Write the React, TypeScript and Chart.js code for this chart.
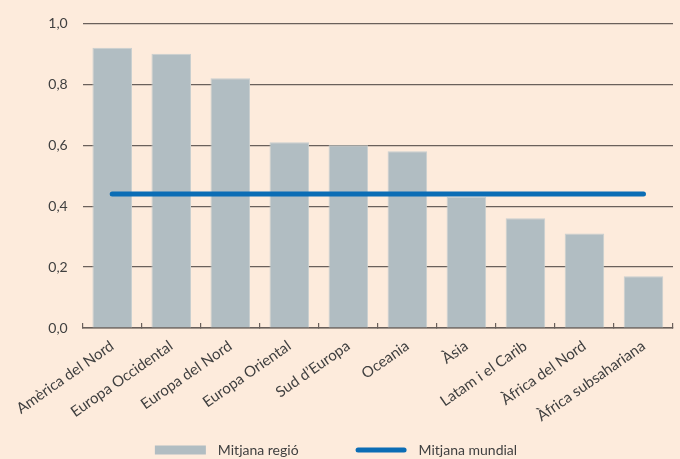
import React, { useEffect, useRef } from "react";
import { Chart, registerables } from "chart.js";

Chart.register(...registerables);

const categories = [
  "Amèrica del Nord",
  "Europa Occidental",
  "Europa del Nord",
  "Europa Oriental",
  "Sud d’Europa",
  "Oceania",
  "Àsia",
  "Latam i el Carib",
  "Àfrica del Nord",
  "Àfrica subsahariana",
];
const regionValues = [0.92, 0.9, 0.82, 0.61, 0.6, 0.58, 0.43, 0.36, 0.31, 0.17];
const worldValues = [0.44, 0.44, 0.44, 0.44, 0.44, 0.44, 0.44, 0.44, 0.44, 0.44];
const seriesLabels = ["Mitjana regió", "Mitjana mundial"];

const BG = "#FDEBDC";
const BAR = "#B1BDC2";
const BAR_EDGE = "#C9CFCF";
const LINE = "#0B6DB5";
const GRID = "#6A605B";
const TEXT = "#404040";
const FONT = "Lato";

const legendPlugin = {
  id: "customLegend",
  afterDraw(chart: any) {
    const ctx = chart.ctx as CanvasRenderingContext2D;
    ctx.save();
    ctx.font = `14px ${FONT}`;
    ctx.textBaseline = "middle";
    ctx.textAlign = "left";
    const sw = 51;
    const gapText = 12;
    const gapItem = 57;
    const ds = chart.data.datasets;
    const widths = ds.map((d: any) => sw + gapText + ctx.measureText(d.label).width);
    const total = widths.reduce((a: number, b: number) => a + b, 0) + gapItem * (ds.length - 1);
    let x = chart.width / 2 - 4 - total / 2;
    const y = chart.height - 9;
    ds.forEach((d: any, i: number) => {
      if (d.type === "line") {
        ctx.strokeStyle = d.borderColor;
        ctx.lineWidth = 5;
        ctx.lineCap = "round";
        ctx.beginPath();
        ctx.moveTo(x + 2.5, y);
        ctx.lineTo(x + sw - 2.5, y);
        ctx.stroke();
      } else {
        ctx.fillStyle = d.backgroundColor;
        ctx.fillRect(x, y - 4.5, sw, 9);
      }
      ctx.fillStyle = TEXT;
      ctx.fillText(d.label, x + sw + gapText, y);
      x += widths[i] + gapItem;
    });
    ctx.restore();
  },
};

export default function App() {
  const ref = useRef<HTMLCanvasElement | null>(null);
  useEffect(() => {
    if (!ref.current) return;
    const chart = new Chart(ref.current, {
      type: "bar",
      data: {
        labels: categories,
        datasets: [
          {
            type: "bar",
            label: seriesLabels[0],
            data: regionValues,
            backgroundColor: BAR,
            borderColor: BAR_EDGE,
            borderWidth: 1,
            borderSkipped: "bottom",
            categoryPercentage: 1,
            barPercentage: 0.67,
            order: 2,
          } as any,
          {
            type: "line",
            label: seriesLabels[1],
            data: worldValues,
            borderColor: LINE,
            backgroundColor: LINE,
            borderWidth: 5,
            borderCapStyle: "round",
            pointRadius: 0,
            pointHoverRadius: 0,
            fill: false,
            order: 1,
          } as any,
        ],
      },
      options: {
        animation: false,
        responsive: false,
        layout: { padding: { top: 22, right: 7, left: 0, bottom: 0 } },
        plugins: {
          legend: { display: false },
          tooltip: { enabled: false },
        },
        scales: {
          x: {
            afterFit: (s: any) => {
              s.height = 131;
            },
            grid: {
              offset: true,
              drawOnChartArea: false,
              drawTicks: true,
              tickLength: -5,
              color: GRID,
              lineWidth: 1.2,
            },
            border: { display: true, color: GRID, width: 1.5 },
            ticks: {
              minRotation: 35,
              maxRotation: 35,
              autoSkip: false,
              padding: 14,
              color: TEXT,
              font: { family: FONT, size: 15 },
            },
          },
          y: {
            min: 0,
            max: 1,
            afterFit: (s: any) => {
              s.width = 82;
            },
            grid: {
              drawTicks: false,
              color: GRID,
              lineWidth: 1.2,
            },
            border: { display: false },
            ticks: {
              stepSize: 0.2,
              padding: 15,
              color: TEXT,
              font: { family: FONT, size: 14 },
              callback: (v: any) => Number(v).toFixed(1).replace(".", ","),
            },
          },
        },
      },
      plugins: [legendPlugin],
    });
    return () => chart.destroy();
  }, []);
  return (
    <div
      style={{
        position: "fixed",
        left: 0,
        top: 0,
        width: 680,
        height: 459,
        background: BG,
      }}
    >
      <canvas ref={ref} width={680} height={459} style={{ display: "block" }} />
    </div>
  );
}
